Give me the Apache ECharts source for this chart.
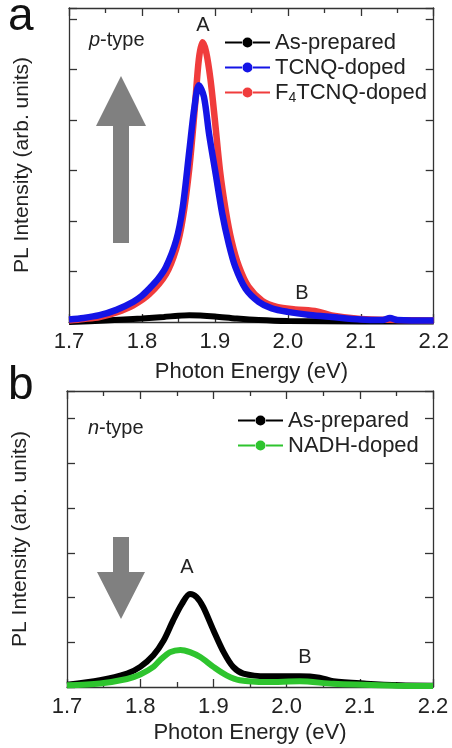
<!DOCTYPE html>
<html><head><meta charset="utf-8">
<script src="https://cdn.jsdelivr.net/npm/echarts@6/dist/echarts.min.js"></script>
<style>html,body{margin:0;padding:0;background:#fff}#c{width:452px;height:748px}</style>
</head><body><div id="c"></div>
<script>
// ---- Panel a (p-type) ----
const xTicks = [1.7, 1.8, 1.9, 2.0, 2.1, 2.2];
const aAsPrepE = [1.70,1.75,1.80,1.83,1.85,1.865,1.88,1.90,1.93,1.96,2.0,2.1,2.2];
const aAsPrepI = [0.0,0.03,0.07,0.10,0.125,0.135,0.13,0.11,0.07,0.04,0.02,0.01,0.01];
const aF4E = [1.70,1.72,1.742,1.765,1.788,1.81,1.833,1.847,1.856,1.865,1.872,1.878,1.883,1.888,1.894,1.900,1.907,1.915,1.923,1.933,1.946,1.965,1.985,2.01,2.04,2.06,2.10,2.15,2.2];
const aF4I = [0.03,0.06,0.10,0.19,0.33,0.55,0.95,1.45,2.05,3.05,4.15,5.2,5.54,5.35,4.8,4.0,3.0,2.2,1.6,1.1,0.7,0.42,0.30,0.25,0.21,0.13,0.06,0.04,0.03];
const aTCNQE = [1.70,1.72,1.742,1.765,1.788,1.80,1.81,1.822,1.833,1.847,1.856,1.865,1.872,1.878,1.885,1.892,1.901,1.910,1.919,1.928,1.942,1.960,1.978,2.0,2.03,2.06,2.10,2.13,2.14,2.15,2.2];
const aTCNQI = [0.05,0.08,0.135,0.24,0.40,0.52,0.66,0.85,1.09,1.62,2.28,3.4,4.26,4.69,4.46,3.73,2.94,2.15,1.55,1.09,0.66,0.40,0.27,0.20,0.14,0.10,0.05,0.04,0.08,0.04,0.03];
// ---- Panel b (n-type) ----
const bAsPrepE = [1.70,1.745,1.782,1.80,1.818,1.832,1.845,1.857,1.868,1.877,1.886,1.90,1.914,1.927,1.941,1.973,2.018,2.045,2.064,2.109,2.155,2.2];
const bAsPrepI = [0.05,0.15,0.30,0.45,0.71,1.04,1.49,1.86,2.08,2.01,1.79,1.27,0.78,0.45,0.30,0.24,0.24,0.21,0.13,0.075,0.04,0.03];
const bNADHE = [1.70,1.745,1.782,1.80,1.818,1.827,1.841,1.855,1.868,1.882,1.90,1.918,1.936,1.973,2.018,2.064,2.15,2.2];
const bNADHI = [0.04,0.08,0.18,0.28,0.45,0.60,0.78,0.83,0.78,0.67,0.45,0.26,0.15,0.11,0.13,0.07,0.03,0.02];

const pair = (xs, ys) => xs.map((x, i) => [x, ys[i]]);
const FONT = 'Liberation Sans, Arial, sans-serif';
const AX = '#333';

function xAx(gi, bottom, gap) {
  return {
    type: 'value', gridIndex: gi, position: bottom ? 'bottom' : 'top',
    min: 1.7, max: 2.2, interval: 0.1,
    axisLine: { show: true, onZero: false, lineStyle: { color: AX, width: 1.3 } },
    axisTick: { show: true, inside: true, length: 8, lineStyle: { color: AX, width: 1.3 } },
    minorTick: { show: true, splitNumber: 2, length: 5, lineStyle: { color: AX, width: 1.3 } },
    splitLine: { show: false }, minorSplitLine: { show: false },
    axisLabel: bottom ? { show: true, fontSize: 22, fontFamily: FONT, color: '#222', margin: 9,
      formatter: v => v.toFixed(1) } : { show: false },
    name: bottom ? 'Photon Energy (eV)' : '', nameLocation: 'middle', nameGap: gap || 36,
    nameTextStyle: { fontSize: 22, fontFamily: FONT, color: '#222' }
  };
}
function yAx(gi, left, max) {
  return {
    type: 'value', gridIndex: gi, position: left ? 'left' : 'right',
    min: 0, max: max, interval: 1,
    axisLine: { show: true, lineStyle: { color: AX, width: 1.3 } },
    axisTick: { show: true, inside: true, length: 8, lineStyle: { color: AX, width: 1.3 } },
    splitLine: { show: false },
    axisLabel: { show: false },
    name: left ? 'PL Intensity (arb. units)' : '', nameLocation: 'middle', nameGap: 36, nameRotate: 90,
    nameTextStyle: { fontSize: 21, fontFamily: FONT, color: '#222' }
  };
}
const ICON = 'path://M0,4 L17,4 L17,6 L0,6 Z M17.5,5 A5,5 0 1 1 27.5,5 A5,5 0 1 1 17.5,5 Z M28,4 L45,4 L45,6 L28,6 Z';
function ser(name, xi, yi, data, color, w) {
  return { name, type: 'line', xAxisIndex: xi, yAxisIndex: yi, data, showSymbol: false,
    smooth: 0.3, lineStyle: { color, width: w }, itemStyle: { color }, animation: false };
}
const arrowUp = [[113,243],[129,243],[129,126],[146,126],[121,76],[96,126],[113,126]];
const arrowDown = [[113,537],[129,537],[129,572],[145,572],[121,619],[97,572],[113,572]];

const chart = echarts.init(document.getElementById('c'), null, { renderer: 'canvas' });
chart.setOption({
  animation: false,
  textStyle: { fontFamily: FONT },
  grid: [
    { left: 69, right: 16, top: 8, height: 314 },
    { left: 67, right: 19, top: 391, height: 296 }
  ],
  xAxis: [xAx(0, true, 39), xAx(0, false), xAx(1, true, 35), xAx(1, false)],
  yAxis: [yAx(0, true, 6.22), yAx(0, false, 6.22), yAx(1, true, 6.62), yAx(1, false, 6.62)],
  legend: [
    { data: ['As-prepared', 'TCNQ-doped', 'F4TCNQ-doped'], left: 225, top: 30, orient: 'vertical',
      icon: ICON, itemWidth: 45, itemHeight: 10, itemGap: 0, padding: 0,
      formatter: n => n === 'F4TCNQ-doped' ? '{a|F}{s|4}{a|TCNQ-doped}' : '{a|' + n + '}',
      textStyle: { fontSize: 22, fontFamily: FONT, color: '#222', lineHeight: 25,
        rich: { a: { fontSize: 22, fontFamily: FONT, color: '#222', lineHeight: 25 },
                s: { fontSize: 14, fontFamily: FONT, color: '#222', lineHeight: 25, verticalAlign: 'bottom', padding: [10, 0, 0, 0] } } } },
    { data: ['As-prepared ', 'NADH-doped'], left: 238, top: 408, orient: 'vertical',
      icon: ICON, itemWidth: 45, itemHeight: 10, itemGap: 0, padding: 0,
      textStyle: { fontSize: 22, fontFamily: FONT, color: '#222', lineHeight: 25 } }
  ],
  series: [
    ser('As-prepared', 0, 0, pair(aAsPrepE, aAsPrepI), '#000000', 6),
    ser('F4TCNQ-doped', 0, 0, pair(aF4E, aF4I), '#f03c3c', 6.5),
    ser('TCNQ-doped', 0, 0, pair(aTCNQE, aTCNQI), '#1414e6', 6.5),
    ser('As-prepared ', 2, 2, pair(bAsPrepE, bAsPrepI), '#000000', 6),
    ser('NADH-doped', 2, 2, pair(bNADHE, bNADHI), '#2ec42e', 6)
  ],
  graphic: [
    { type: 'polygon', shape: { points: arrowUp }, style: { fill: '#808080' } },
    { type: 'polygon', shape: { points: arrowDown }, style: { fill: '#808080' } },
    { type: 'text', left: 8, top: -6, style: { text: 'a', font: '46px ' + FONT, fill: '#111' } },
    { type: 'text', left: 8, top: 363, style: { text: 'b', font: '46px ' + FONT, fill: '#111' } },
    { type: 'text', x: 89, y: 40, style: { text: '{i|p}{r|-type}', verticalAlign: 'middle',
        rich: { i: { font: 'italic 20px ' + FONT, fill: '#222' }, r: { font: '20px ' + FONT, fill: '#222' } } } },
    { type: 'text', x: 88, y: 428, style: { text: '{i|n}{r|-type}', verticalAlign: 'middle',
        rich: { i: { font: 'italic 20px ' + FONT, fill: '#222' }, r: { font: '20px ' + FONT, fill: '#222' } } } },
    { type: 'text', x: 203, y: 25, style: { text: 'A', font: '20px ' + FONT, fill: '#222', align: 'center', verticalAlign: 'middle' } },
    { type: 'text', x: 302, y: 293, style: { text: 'B', font: '20px ' + FONT, fill: '#222', align: 'center', verticalAlign: 'middle' } },
    { type: 'text', x: 187, y: 567, style: { text: 'A', font: '20px ' + FONT, fill: '#222', align: 'center', verticalAlign: 'middle' } },
    { type: 'text', x: 305, y: 657, style: { text: 'B', font: '20px ' + FONT, fill: '#222', align: 'center', verticalAlign: 'middle' } }
  ]
});
</script></body></html>
